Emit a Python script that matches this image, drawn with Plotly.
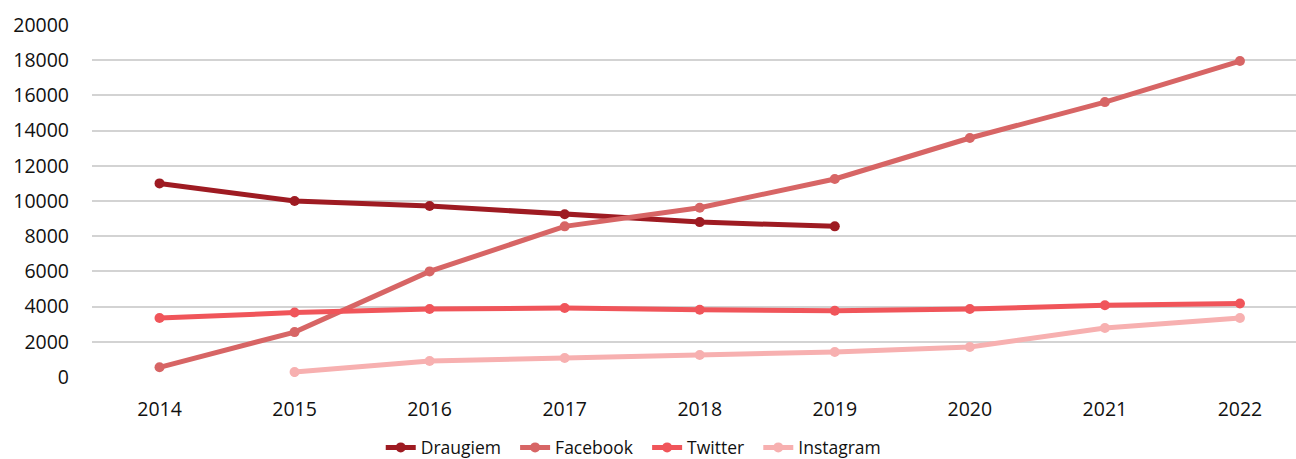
import plotly.graph_objects as go

years = ["2014", "2015", "2016", "2017", "2018", "2019", "2020", "2021", "2022"]
draugiem = [11000, 10000, 9720, 9250, 8800, 8560, None, None, None]
facebook = [550, 2550, 6000, 8560, 9620, 11250, 13580, 15620, 17950]
twitter = [3350, 3660, 3860, 3920, 3820, 3760, 3860, 4080, 4180]
instagram = [None, 280, 910, 1080, 1250, 1420, 1700, 2780, 3350]

series = [
    ("Draugiem", draugiem, "#9E1B22"),
    ("Facebook", facebook, "#D76565"),
    ("Twitter", twitter, "#F0555A"),
    ("Instagram", instagram, "#F7B0B0"),
]

fig = go.Figure()
for i, (name, vals, color) in enumerate(series):
    label = name + ("\u00a0\u00a0" if i < len(series) - 1 else "")
    fig.add_trace(go.Scatter(
        x=years, y=vals, name=label, mode="lines+markers",
        line=dict(color=color, width=5),
        marker=dict(color=color, size=10),
        connectgaps=False,
    ))

font_family = "'Open Sans', 'Noto Sans', sans-serif"
fig.update_layout(
    width=1296, height=459,
    margin=dict(l=92, r=0, t=25, b=82),
    paper_bgcolor="white", plot_bgcolor="white",
    font=dict(family=font_family, size=19.5, color="#111111"),
    showlegend=True,
    legend=dict(orientation="h", x=0.489, xref="container", xanchor="center",
                y=0.025, yref="container", yanchor="middle",
                font=dict(size=17.5), itemwidth=30, tracegroupgap=0,
                bgcolor="rgba(0,0,0,0)"),
    xaxis=dict(type="category", range=[-0.5, 8.415], showgrid=False,
               showline=False, ticks="", ticklabelstandoff=18, automargin=False),
    yaxis=dict(range=[0, 20000], dtick=2000, showgrid=True, gridcolor="#D3D3D3",
               gridwidth=1.5, zeroline=False, showline=False, ticks="",
               ticklabelstandoff=22, tickformat="d", automargin=False),
)

fig.write_html("out.html", config={"displayModeBar": False},
               post_script="document.body.style.margin='0';")
